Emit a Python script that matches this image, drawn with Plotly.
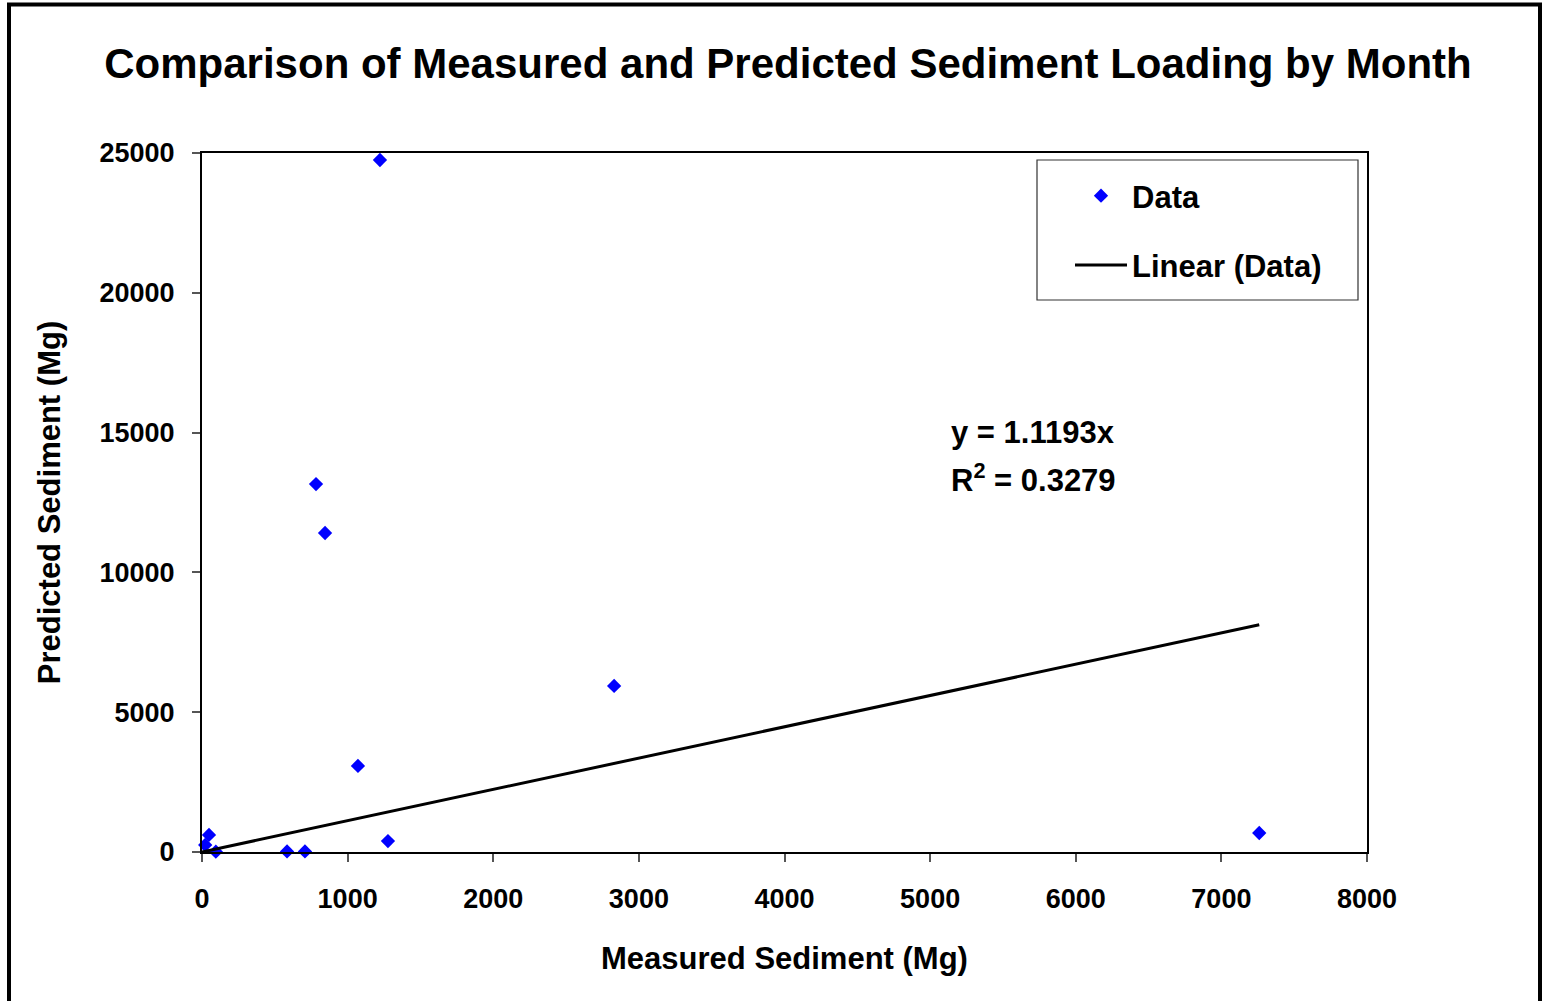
import plotly.graph_objects as go

# Data
measured = [1222, 783, 845, 2830, 1071, 1277, 7260, 584, 707, 48, 22, 95]
predicted = [24750, 13160, 11410, 5940, 3080, 390, 680, 20, 20, 610, 250, 10]
slope = 1.1193
r_squared = 0.3279
x_ticks = [0, 1000, 2000, 3000, 4000, 5000, 6000, 7000, 8000]
y_ticks = [0, 5000, 10000, 15000, 20000, 25000]

FONT = "Arial, Liberation Sans, sans-serif"
W, H = 1543, 1001
L, R, T, B = 202, 1543 - 1367, 153, 1001 - 852
PW, PH = W - L - R, H - T - B


def px_x(p):
    return (p - L) / PW


def px_y(p):
    return (H - B - p) / PH


trend_x = [0, max(measured)]
trend_y = [slope * v for v in trend_x]

fig = go.Figure()
fig.add_trace(go.Scatter(
    x=measured, y=predicted, mode="markers", name="Data",
    marker=dict(symbol="diamond", size=11, color="#0000FF"),
    cliponaxis=False, legendgroup="a",
))
fig.add_trace(go.Scatter(
    x=trend_x, y=trend_y, mode="lines", name="Linear (Data)",
    line=dict(color="black", width=3), legendgroup="b",
))

fig.add_annotation(
    x=px_x(949), y=px_y(432), xref="paper", yref="paper",
    xanchor="left", yanchor="middle", align="left", showarrow=False,
    text=f"<b>y = {slope}x</b>",
    font=dict(family=FONT, size=31, color="black"),
)
fig.add_annotation(
    x=px_x(949), y=px_y(478), xref="paper", yref="paper",
    xanchor="left", yanchor="middle", align="left", showarrow=False,
    text=f"<b>R<sup>2</sup> = {r_squared}</b>",
    font=dict(family=FONT, size=31, color="black"),
)

# legend box
fig.add_shape(type="rect", xref="paper", yref="paper",
              x0=px_x(1037), x1=px_x(1358), y0=px_y(300), y1=px_y(160),
              line=dict(color="#333333", width=1.2), fillcolor="white", layer="below")
# outer chart border
fig.add_shape(type="rect", xref="paper", yref="paper",
              x0=px_x(9), x1=px_x(1540), y0=px_y(1012), y1=px_y(4.5),
              line=dict(color="black", width=4), fillcolor="rgba(0,0,0,0)")

axis_common = dict(
    showline=True, linecolor="black", linewidth=2, mirror=True,
    showgrid=False, zeroline=False, ticks="outside", ticklen=8,
    tickcolor="#555555", tickwidth=1.5,
    tickfont=dict(family=FONT, size=27, color="black", weight="bold"),
)

fig.update_layout(
    width=W, height=H,
    margin=dict(l=L, r=R, t=T, b=B),
    paper_bgcolor="white", plot_bgcolor="white",
    title=dict(
        text="<b>Comparison of Measured and Predicted Sediment Loading by Month</b>",
        x=788 / W, xanchor="center",
        y=1 - 63 / H, yanchor="middle",
        font=dict(family=FONT, size=42, color="black"),
    ),
    xaxis=dict(
        range=[0, 8000], tickvals=x_ticks, ticktext=[str(v) for v in x_ticks],
        ticklabelstandoff=14,
        title=dict(text="<b>Measured Sediment (Mg)</b>", standoff=34,
                   font=dict(family=FONT, size=31, color="black")),
        **axis_common,
    ),
    yaxis=dict(
        range=[0, 25000], tickvals=y_ticks, ticktext=[str(v) for v in y_ticks],
        ticklabelstandoff=12,
        title=dict(text="<b>Predicted Sediment (Mg)</b>", standoff=30,
                   font=dict(family=FONT, size=31, color="black")),
        **axis_common,
    ),
    legend=dict(
        x=px_x(1070), y=px_y(169), xanchor="left", yanchor="top",
        bgcolor="rgba(0,0,0,0)", borderwidth=0,
        font=dict(family=FONT, size=31, color="black", weight="bold"),
        tracegroupgap=26, itemwidth=52,
    ),
    showlegend=True,
)

fig.write_html("out.html")
